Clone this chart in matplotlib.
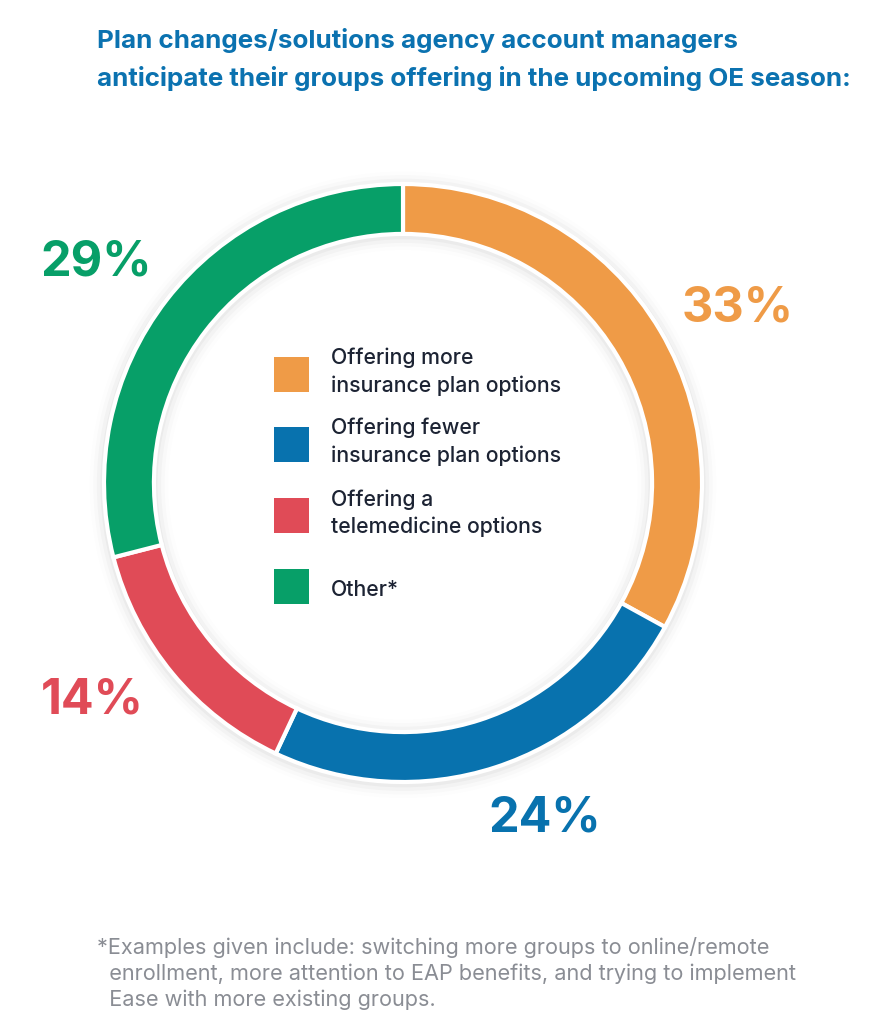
import matplotlib.pyplot as plt
from matplotlib.patches import Rectangle, Wedge

labels = ['Offering more\ninsurance plan options',
          'Offering fewer\ninsurance plan options',
          'Offering a\ntelemedicine options',
          'Other*']
values = [33, 24, 14, 29]
colors = ['#ef9b47', '#0872ae', '#e04b57', '#079f68']
pct_labels = ['33%', '24%', '14%', '29%']

title = ('Plan changes/solutions agency account managers\n'
         'anticipate their groups offering in the upcoming OE season:')
footnote = ['*Examples given include: switching more groups to online/remote',
            '  enrollment, more attention to EAP benefits, and trying to implement',
            '  Ease with more existing groups.']

plt.rcParams['font.family'] = ['Inter', 'DejaVu Sans']

W, H = 891, 1024
fig = plt.figure(figsize=(W / 100, H / 100), dpi=100)
fig.patch.set_facecolor('white')


def fx(px):
    return px / W


def fy(py):
    return 1 - py / H


# donut
cx, cy, r = 403, 483, 299
pad = 1.06
ax = fig.add_axes([fx(cx - r * pad), fy(cy + r * pad), 2 * r * pad / W, 2 * r * pad / H])
ax.axis('off')
# soft shadow around the ring
for i, a in enumerate([0.03, 0.022, 0.015, 0.008]):
    d = 0.012 * (i + 1)
    ax.add_patch(Wedge((0.0, -0.006), 1.0 + d, 0, 360, width=0.167 + 2 * d,
                       color='#000000', alpha=a, lw=0))
ax.pie(values, colors=colors, startangle=90, counterclock=False, radius=1.0,
       wedgeprops=dict(width=0.167, edgecolor='white', linewidth=3))
ax.set_xlim(-pad, pad)
ax.set_ylim(-pad, pad)
ax.set_aspect('equal')

# title
fig.text(fx(97), fy(28), title, ha='left', va='top', fontsize=18.7, fontweight='bold',
         color='#0b72b0', linespacing=1.65)

# percentage labels
pct_pos = [(738, 308), (545, 818), (92, 700), (96, 262)]
for (px, py), t, c in zip(pct_pos, pct_labels, colors):
    fig.text(fx(px), fy(py), t, ha='center', va='center', fontsize=35,
             fontweight='bold', color=c)

# legend
sq_tops = [357, 427, 498, 569]
for top, lab, c in zip(sq_tops, labels, colors):
    fig.patches.append(Rectangle((fx(274), fy(top + 35)), 35 / W, 35 / H,
                                 transform=fig.transFigure, color=c, lw=0))
    if '\n' in lab:
        fig.text(fx(331), fy(top - 9), lab, ha='left', va='top', fontsize=15.3,
                 color='#1c2333', linespacing=1.45, fontweight='medium')
    else:
        fig.text(fx(331), fy(top + 21), lab, ha='left', va='center', fontsize=15.3,
                 color='#1c2333', fontweight='medium')

# footnote
for i, line in enumerate(footnote):
    fig.text(fx(97), fy(948 + 26 * i), line, ha='left', va='center', fontsize=15.6,
             color='#8a8d94')

fig.savefig('out.png', dpi=100, facecolor='white')
